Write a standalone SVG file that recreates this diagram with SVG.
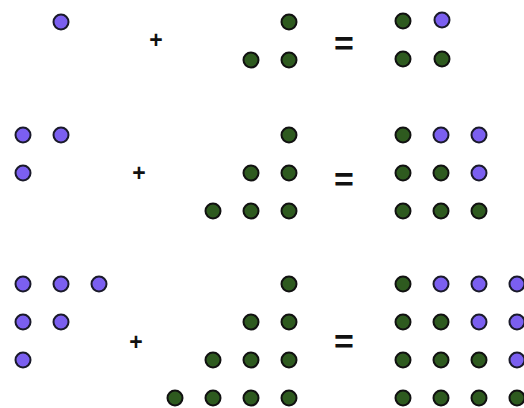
<svg xmlns="http://www.w3.org/2000/svg" width="524" height="408" viewBox="0 0 524 408">
<style>
.p{fill:#7b5ff0;stroke:#1a1a2a;stroke-width:2}
.g{fill:#2e5a1f;stroke:#111;stroke-width:2}
.pl{font-family:"Liberation Sans",Arial,sans-serif;fill:#111;text-anchor:middle;font-size:23px;font-weight:bold}
.eq{font-family:"Liberation Sans",Arial,sans-serif;fill:#111;text-anchor:middle;font-size:34px;font-weight:bold}
</style>
<rect width="524" height="408" fill="#fff"/>
<g id="row1">
 <g id="r1-left"><circle class="p" cx="61" cy="22" r="7.5"/></g>
 <text class="pl" x="156" y="48">+</text>
 <g id="r1-mid">
  <circle class="g" cx="289" cy="22" r="7.5"/>
  <circle class="g" cx="251" cy="60" r="7.5"/><circle class="g" cx="289" cy="60" r="7.5"/>
 </g>
 <text class="eq" x="344" y="55">=</text>
 <g id="r1-right">
  <circle class="g" cx="403" cy="21" r="7.5"/><circle class="p" cx="442" cy="20" r="7.5"/>
  <circle class="g" cx="403" cy="59" r="7.5"/><circle class="g" cx="442" cy="59" r="7.5"/>
 </g>
</g>
<g id="row2">
 <g id="r2-left">
  <circle class="p" cx="23" cy="135" r="7.5"/><circle class="p" cx="61" cy="135" r="7.5"/>
  <circle class="p" cx="23" cy="173" r="7.5"/>
 </g>
 <text class="pl" x="139" y="181">+</text>
 <g id="r2-mid">
  <circle class="g" cx="289" cy="135" r="7.5"/>
  <circle class="g" cx="251" cy="173" r="7.5"/><circle class="g" cx="289" cy="173" r="7.5"/>
  <circle class="g" cx="213" cy="211" r="7.5"/><circle class="g" cx="251" cy="211" r="7.5"/><circle class="g" cx="289" cy="211" r="7.5"/>
 </g>
 <text class="eq" x="344" y="191">=</text>
 <g id="r2-right">
  <circle class="g" cx="403" cy="135" r="7.5"/><circle class="p" cx="441" cy="135" r="7.5"/><circle class="p" cx="479" cy="135" r="7.5"/>
  <circle class="g" cx="403" cy="173" r="7.5"/><circle class="g" cx="441" cy="173" r="7.5"/><circle class="p" cx="479" cy="173" r="7.5"/>
  <circle class="g" cx="403" cy="211" r="7.5"/><circle class="g" cx="441" cy="211" r="7.5"/><circle class="g" cx="479" cy="211" r="7.5"/>
 </g>
</g>
<g id="row3">
 <g id="r3-left">
  <circle class="p" cx="23" cy="284" r="7.5"/><circle class="p" cx="61" cy="284" r="7.5"/><circle class="p" cx="99" cy="284" r="7.5"/>
  <circle class="p" cx="23" cy="322" r="7.5"/><circle class="p" cx="61" cy="322" r="7.5"/>
  <circle class="p" cx="23" cy="360" r="7.5"/>
 </g>
 <text class="pl" x="136" y="350">+</text>
 <g id="r3-mid">
  <circle class="g" cx="289" cy="284" r="7.5"/>
  <circle class="g" cx="251" cy="322" r="7.5"/><circle class="g" cx="289" cy="322" r="7.5"/>
  <circle class="g" cx="213" cy="360" r="7.5"/><circle class="g" cx="251" cy="360" r="7.5"/><circle class="g" cx="289" cy="360" r="7.5"/>
  <circle class="g" cx="175" cy="398" r="7.5"/><circle class="g" cx="213" cy="398" r="7.5"/><circle class="g" cx="251" cy="398" r="7.5"/><circle class="g" cx="289" cy="398" r="7.5"/>
 </g>
 <text class="eq" x="344" y="353">=</text>
 <g id="r3-right">
  <circle class="g" cx="403" cy="284" r="7.5"/><circle class="p" cx="441" cy="284" r="7.5"/><circle class="p" cx="479" cy="284" r="7.5"/><circle class="p" cx="517" cy="284" r="7.5"/>
  <circle class="g" cx="403" cy="322" r="7.5"/><circle class="g" cx="441" cy="322" r="7.5"/><circle class="p" cx="479" cy="322" r="7.5"/><circle class="p" cx="517" cy="322" r="7.5"/>
  <circle class="g" cx="403" cy="360" r="7.5"/><circle class="g" cx="441" cy="360" r="7.5"/><circle class="g" cx="479" cy="360" r="7.5"/><circle class="p" cx="517" cy="360" r="7.5"/>
  <circle class="g" cx="403" cy="398" r="7.5"/><circle class="g" cx="441" cy="398" r="7.5"/><circle class="g" cx="479" cy="398" r="7.5"/><circle class="g" cx="517" cy="398" r="7.5"/>
 </g>
</g>
</svg>
